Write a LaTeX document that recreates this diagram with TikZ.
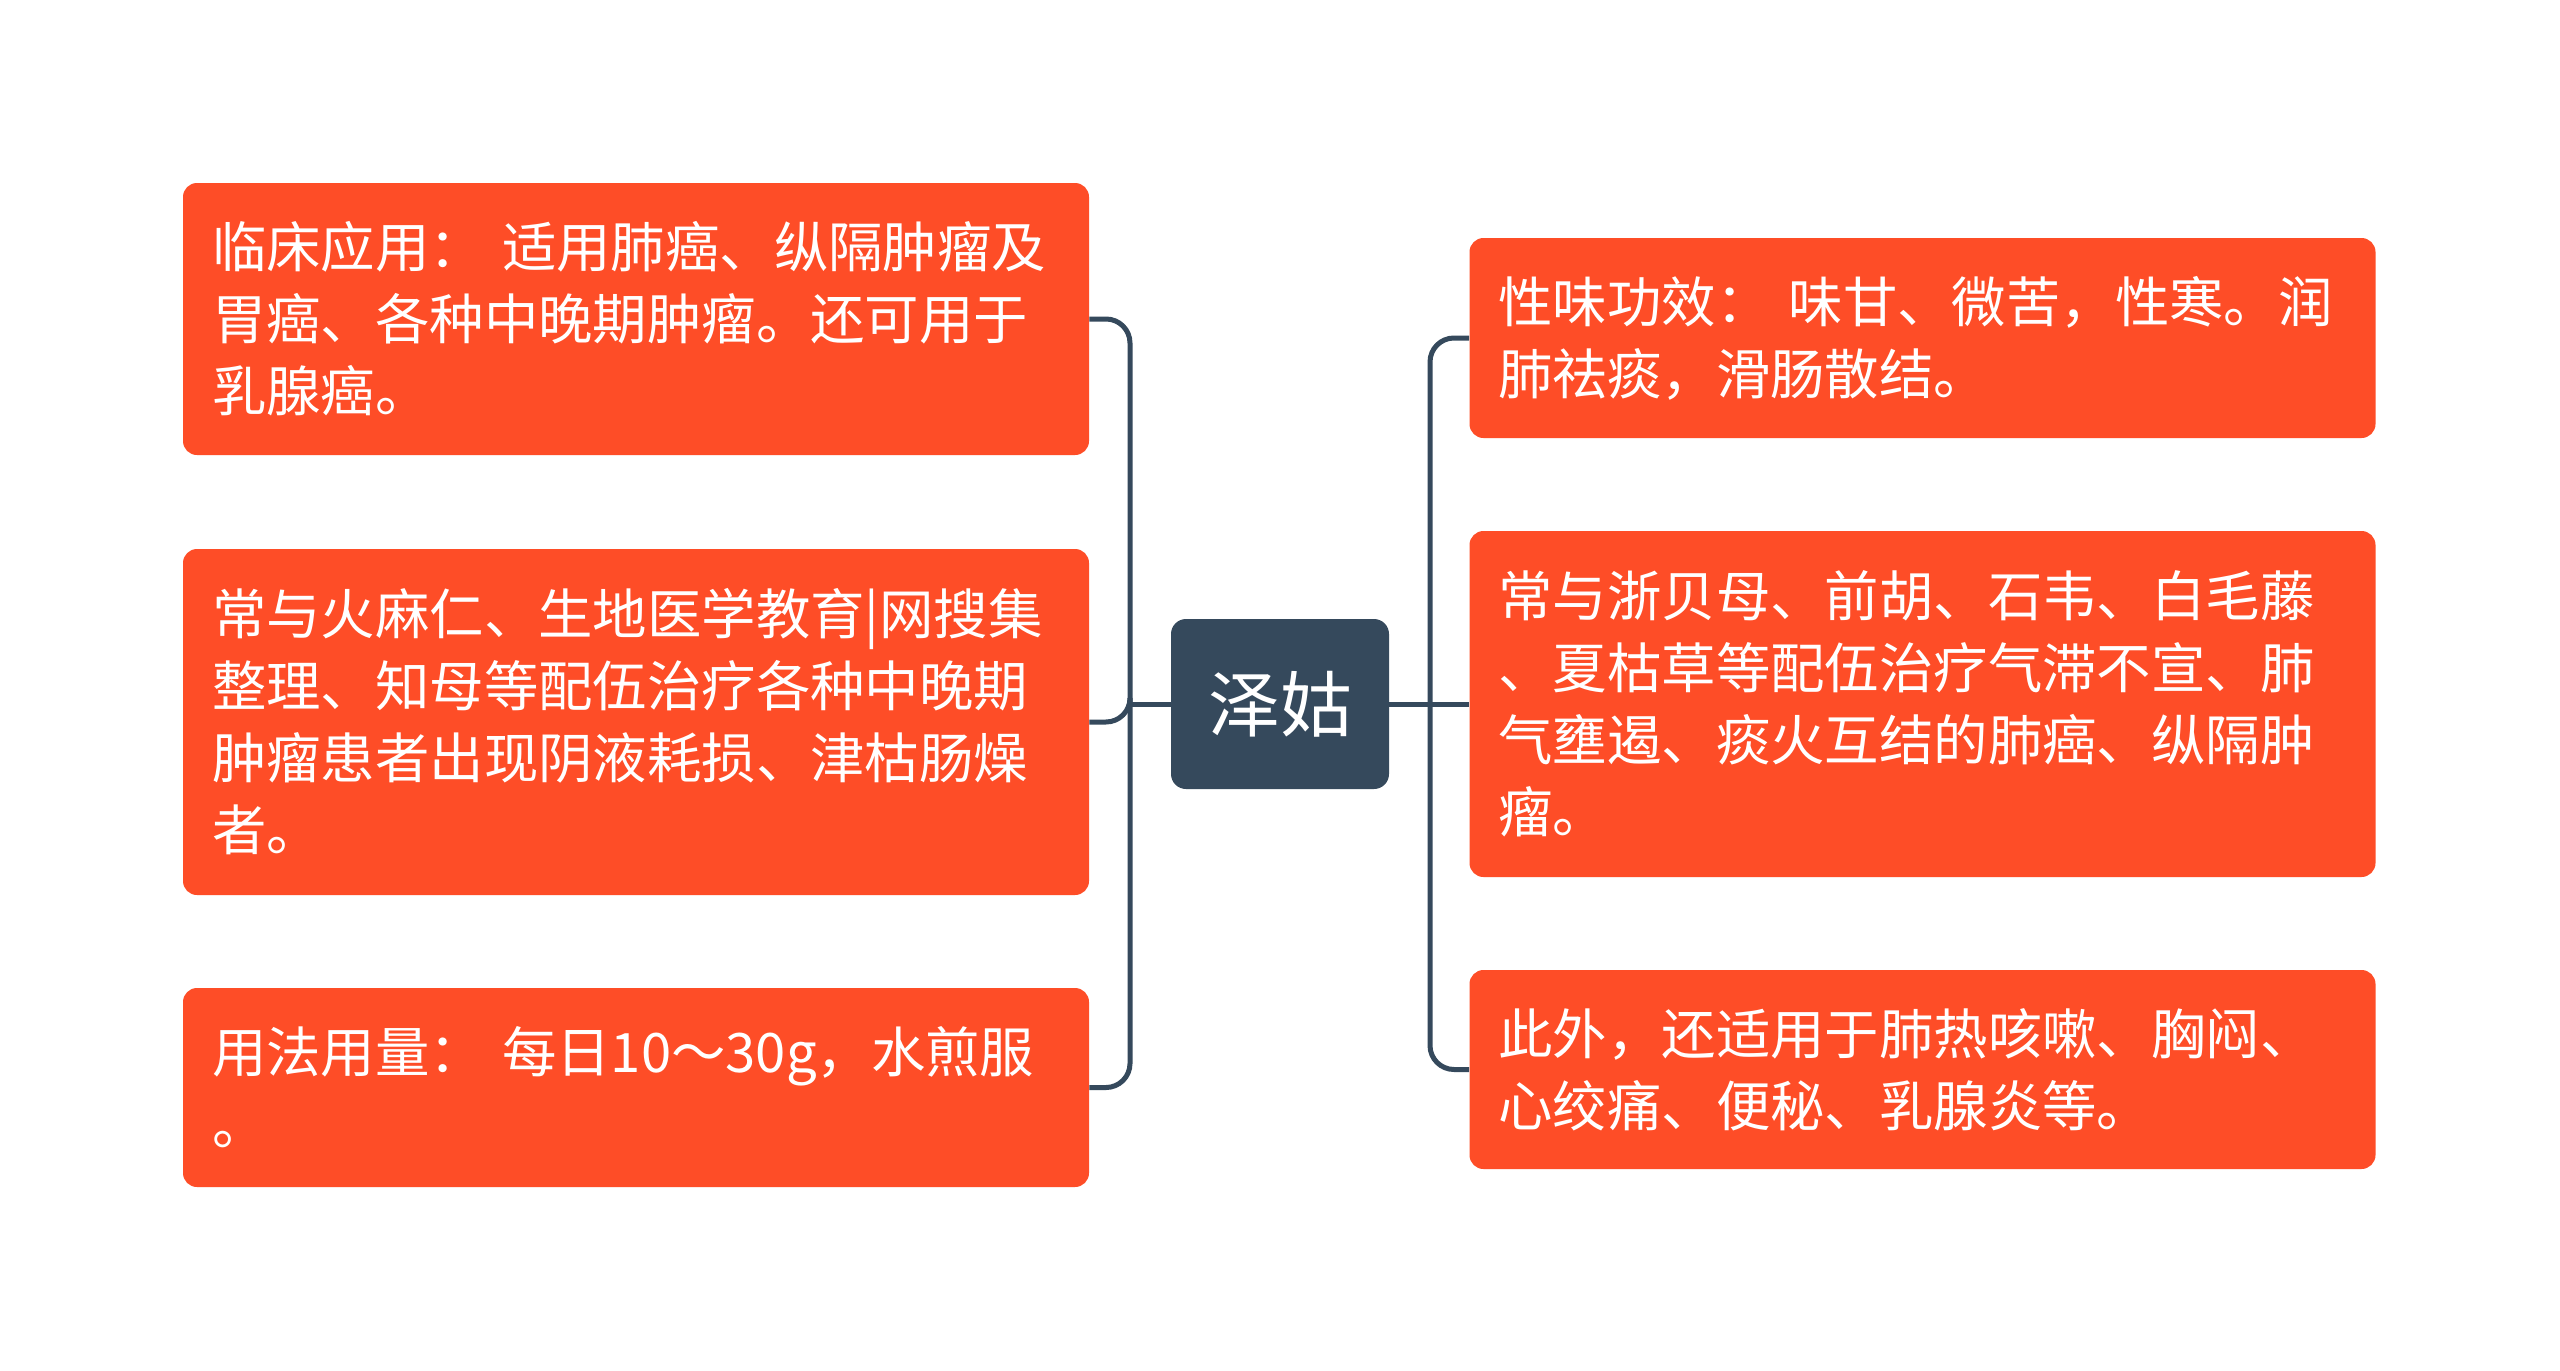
\documentclass[tikz,border=0pt]{standalone}
\usepackage{fontspec}
\newfontfamily\cjk{Noto Sans CJK SC}
\usetikzlibrary{positioning}
\definecolor{mmred}{HTML}{FE4D27}
\definecolor{mmslate}{HTML}{35495C}

\begin{document}
\begin{tikzpicture}[x=0.5pt, y=-0.5pt,
  topic/.style={fill=mmred, rounded corners=7pt, text=white,
    text width=424pt, align=left, inner xsep=14.5pt, inner ysep=0pt,
    font=\cjk\fontsize{27.2}{36}\selectfont},
  hub/.style={fill=mmslate, rounded corners=7.5pt, text=white,
    minimum width=109pt, minimum height=85pt,
    font=\cjk\fontsize{36}{40}\selectfont},
  link/.style={draw=mmslate, line width=2.5pt, rounded corners=12pt}]
\fill[white] (0,0) rectangle (2560,1371);
\useasboundingbox (0,0) rectangle (2560,1371);
\node[hub] (hub) at (1280,704) {泽姑};
\node[topic, minimum height=136pt] (clin) at (636,319)
  {临床应用： 适用肺癌、纵隔肿瘤及\\胃癌、各种中晚期肿瘤。还可用于\\乳腺癌。};
\node[topic, minimum height=173pt] (combo) at (636,722)
  {常与火麻仁、生地医学教育|网搜集\\整理、知母等配伍治疗各种中晚期\\肿瘤患者出现阴液耗损、津枯肠燥\\者。};
\node[topic, minimum height=99.5pt] (dose) at (636,1087.5)
  {用法用量： 每日10～30g，水煎服\\。};
\node[topic, minimum height=100pt] (taste) at (1922.5,338)
  {性味功效： 味甘、微苦，性寒。润\\肺祛痰，滑肠散结。};
\node[topic, minimum height=173pt] (pair) at (1922.5,704)
  {常与浙贝母、前胡、石韦、白毛藤\\、夏枯草等配伍治疗气滞不宣、肺\\气壅遏、痰火互结的肺癌、纵隔肿\\瘤。};
\node[topic, minimum height=99.5pt] (extra) at (1922.5,1069.5)
  {此外，还适用于肺热咳嗽、胸闷、\\心绞痛、便秘、乳腺炎等。};
\coordinate (ljoint) at (1130,704);
\coordinate (rjoint) at (1430,704);
\draw[link] (hub.west) -- (ljoint);
\draw[link] (ljoint) |- (clin.east);
\draw[link] (ljoint) |- (combo.east);
\draw[link] (ljoint) |- (dose.east);
\draw[link] (hub.east) -- (rjoint);
\draw[link] (rjoint) |- (taste.west);
\draw[link] (rjoint) -- (pair.west);
\draw[link] (rjoint) |- (extra.west);
\end{tikzpicture}
\end{document}
